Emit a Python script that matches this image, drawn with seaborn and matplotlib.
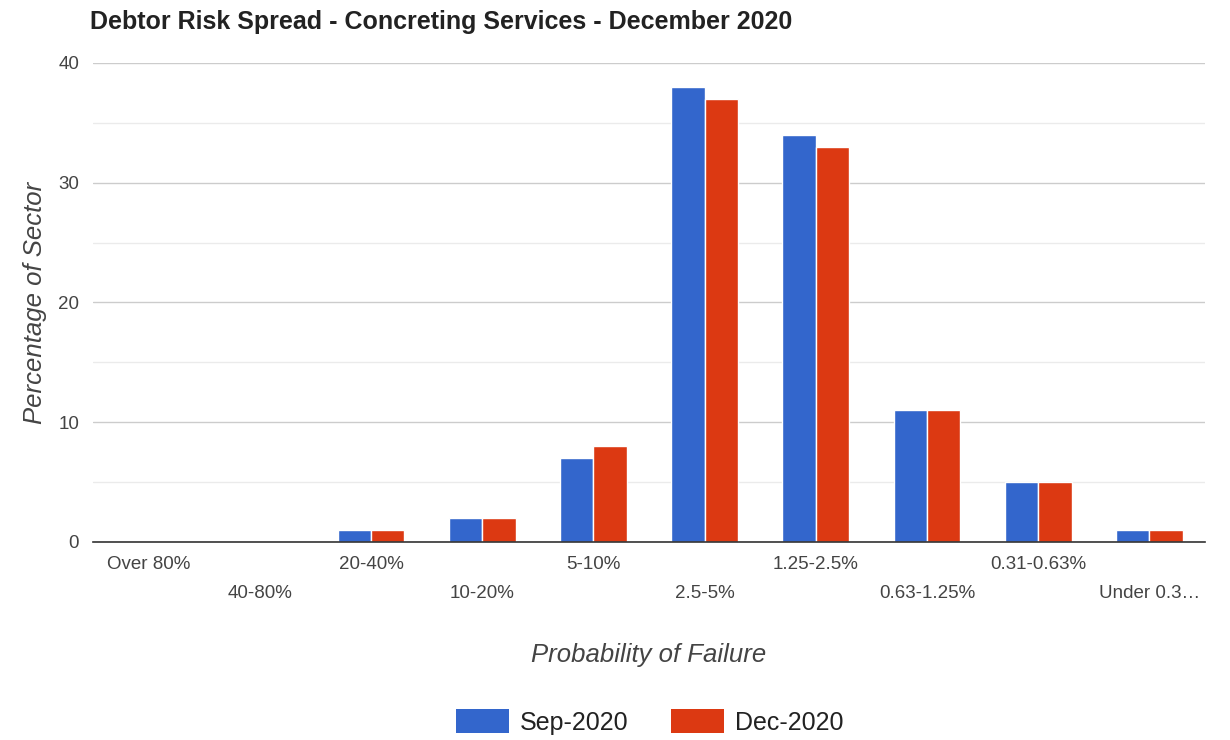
import matplotlib
matplotlib.use("Agg")
import matplotlib.pyplot as plt
import seaborn as sns
import pandas as pd
from matplotlib.patches import Patch
from matplotlib.ticker import MultipleLocator

categories = ["Over 80%", "40-80%", "20-40%", "10-20%", "5-10%", "2.5-5%",
              "1.25-2.5%", "0.63-1.25%", "0.31-0.63%", "Under 0.3\u2026"]
sep_2020 = [0, 0, 1, 2, 7, 38, 34, 11, 5, 1]
dec_2020 = [0, 0, 1, 2, 8, 37, 33, 11, 5, 1]
series = ["Sep-2020", "Dec-2020"]
colors = ["#3366cc", "#dc3912"]

df = pd.DataFrame({
    "cat": categories * 2,
    "val": sep_2020 + dec_2020,
    "series": [series[0]] * len(categories) + [series[1]] * len(categories),
})

sns.set_theme(style="white")
plt.rcParams["font.family"] = ["Liberation Sans", "DejaVu Sans"]

fig = plt.figure(figsize=(12.3, 7.4), dpi=100)
ax = fig.add_axes([93/1230, 1 - 542/740, (1205-93)/1230, (542-63)/740])

sns.barplot(data=df, x="cat", y="val", hue="series", palette=colors,
            order=categories, hue_order=series, width=0.6, ax=ax,
            edgecolor="white", linewidth=1, legend=False, saturation=1)

ax.set_ylim(0, 40)
ax.set_xlim(-0.5, len(categories) - 0.5)
ax.yaxis.set_major_locator(MultipleLocator(10))
ax.yaxis.set_minor_locator(MultipleLocator(5))
ax.grid(True, which="major", axis="y", color="#cccccc", linewidth=1)
ax.grid(True, which="minor", axis="y", color="#ebebeb", linewidth=1)
ax.set_axisbelow(True)
for s in ["top", "right", "left"]:
    ax.spines[s].set_visible(False)
ax.spines["bottom"].set_color("#333333")
ax.spines["bottom"].set_linewidth(1.2)
ax.spines["bottom"].set_zorder(5)

labels = [c if i % 2 == 0 else "\n" + c for i, c in enumerate(categories)]
ax.set_xticks(range(len(categories)))
ax.set_xticklabels(labels, fontsize=13.5, color="#444444", linespacing=1.9)
ax.tick_params(axis="x", length=0, pad=10)
ax.tick_params(axis="y", length=0, pad=10, labelsize=13.5, labelcolor="#444444")
ax.set_yticks([0, 10, 20, 30, 40])

ax.set_xlabel("Probability of Failure", fontsize=18.5, style="italic",
              color="#444444", labelpad=30)
ax.set_ylabel("Percentage of Sector", fontsize=18.5, style="italic",
              color="#444444", labelpad=8)

fig.text(90/1230, 1 - 22/740, "Debtor Risk Spread - Concreting Services - December 2020",
         fontsize=18, fontweight="bold", color="#222222", va="center", ha="left")

handles = [Patch(facecolor=c, edgecolor="none") for c in colors]
fig.legend(handles, series, loc="center", bbox_to_anchor=(650/1230, 1 - 722/740),
           ncol=2, frameon=False, fontsize=18, handlelength=2.1, handleheight=1.05,
           columnspacing=1.7, handletextpad=0.45, labelcolor="#222222")

fig.savefig("out.png", dpi=100, facecolor="white")
